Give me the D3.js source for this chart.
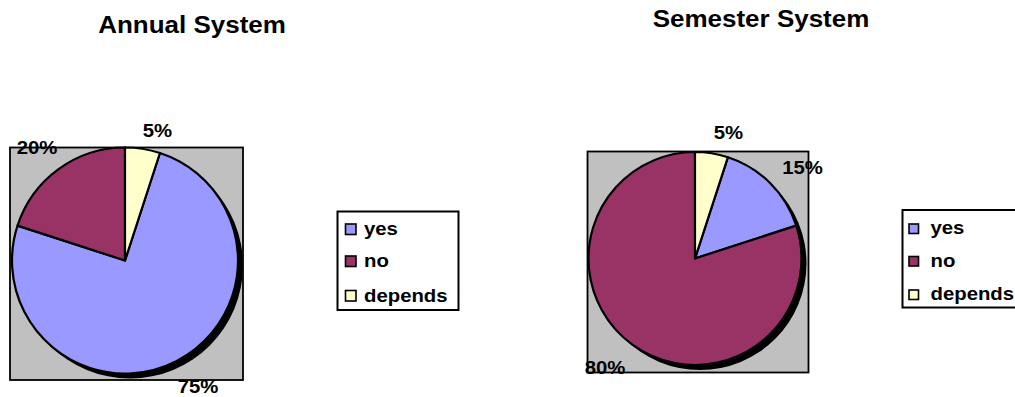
<!DOCTYPE html>
<html>
<head>
<meta charset="utf-8">
<script src="https://cdn.jsdelivr.net/npm/d3@7"></script>
<style>
  html, body { margin: 0; padding: 0; background: #fff; }
  svg { display: block; }
  text { font-family: "Liberation Sans", Arial, sans-serif; font-weight: bold; fill: #000; }
</style>
</head>
<body>
<svg id="chart" width="1015" height="397"></svg>
<script>
const categories = ["yes", "no", "depends"];
const colors = ["#9999FF", "#993366", "#FFFFCC"];
const annualValues = [75, 20, 5];
const semesterValues = [15, 80, 5];
const titles = ["Annual System", "Semester System"];

const svg = d3.select("#chart");
const SX = 1.13;

function txt(g, x, y, s, size, anchor) {
  g.append("text")
    .attr("transform", `translate(${x},${y}) scale(${SX},1)`)
    .attr("text-anchor", anchor || "middle")
    .style("font-size", size + "px")
    .text(s);
}

const panels = [
  { values: annualValues, title: titles[0], titleX: 192, titleY: 33,
    box: [10, 147.5, 243, 380], cx: 125, cy: 260.5, r: 113,
    labels: [[198, 393], [37, 154], [157.5, 136.5]],
    legend: { box: [337.5, 211.5, 458.5, 310], sqX: 345.5, sqSize: 10.5, textX: 364, rows: [235, 267, 301.5] } },
  { values: semesterValues, title: titles[1], titleX: 761, titleY: 26.5,
    box: [587.5, 151.5, 808.5, 372.5], cx: 695, cy: 258.5, r: 106.5,
    labels: [[802.5, 174], [605, 373.5], [728.5, 139]],
    legend: { box: [902.5, 210, 1030, 307.5], sqX: 909, sqSize: 9.5, textX: 930.5, rows: [234, 266.5, 300] } }
];

panels.forEach(p => {
  const g = svg.append("g");
  txt(g, p.titleX, p.titleY, p.title, 23);

  // plot area
  g.append("rect")
    .attr("x", p.box[0]).attr("y", p.box[1])
    .attr("width", p.box[2] - p.box[0]).attr("height", p.box[3] - p.box[1])
    .attr("fill", "#C0C0C0").attr("stroke", "#000").attr("stroke-width", 1.8);

  // shadow
  g.append("circle").attr("cx", p.cx + 5).attr("cy", p.cy + 5).attr("r", p.r).attr("fill", "#000");

  const total = d3.sum(p.values);
  const offset = p.values[2] / total * 2 * Math.PI; // depends slice sits at 12 o'clock
  const pie = d3.pie().sort(null).value(d => d)
    .startAngle(offset).endAngle(offset + 2 * Math.PI);
  const arcs = pie(p.values);
  const arc = d3.arc().innerRadius(0).outerRadius(p.r);

  g.append("g").attr("transform", `translate(${p.cx},${p.cy})`)
    .selectAll("path").data(arcs).join("path")
    .attr("d", arc)
    .attr("fill", (d, i) => colors[i])
    .attr("stroke", "#000").attr("stroke-width", 2.2).attr("stroke-linejoin", "round");

  // labels
  arcs.forEach((d, i) => {
    txt(g, p.labels[i][0], p.labels[i][1], Math.round(d.value / total * 100) + "%", 18);
  });

  // legend
  const L = p.legend;
  g.append("rect")
    .attr("x", L.box[0]).attr("y", L.box[1])
    .attr("width", L.box[2] - L.box[0]).attr("height", L.box[3] - L.box[1])
    .attr("fill", "#fff").attr("stroke", "#000").attr("stroke-width", 2);
  categories.forEach((c, i) => {
    g.append("rect")
      .attr("x", L.sqX).attr("y", L.rows[i] - L.sqSize - 0.5)
      .attr("width", L.sqSize).attr("height", L.sqSize)
      .attr("fill", colors[i]).attr("stroke", "#000").attr("stroke-width", 1.6);
    txt(g, L.textX, L.rows[i], c, 18, "start");
  });
});
</script>
</body>
</html>
